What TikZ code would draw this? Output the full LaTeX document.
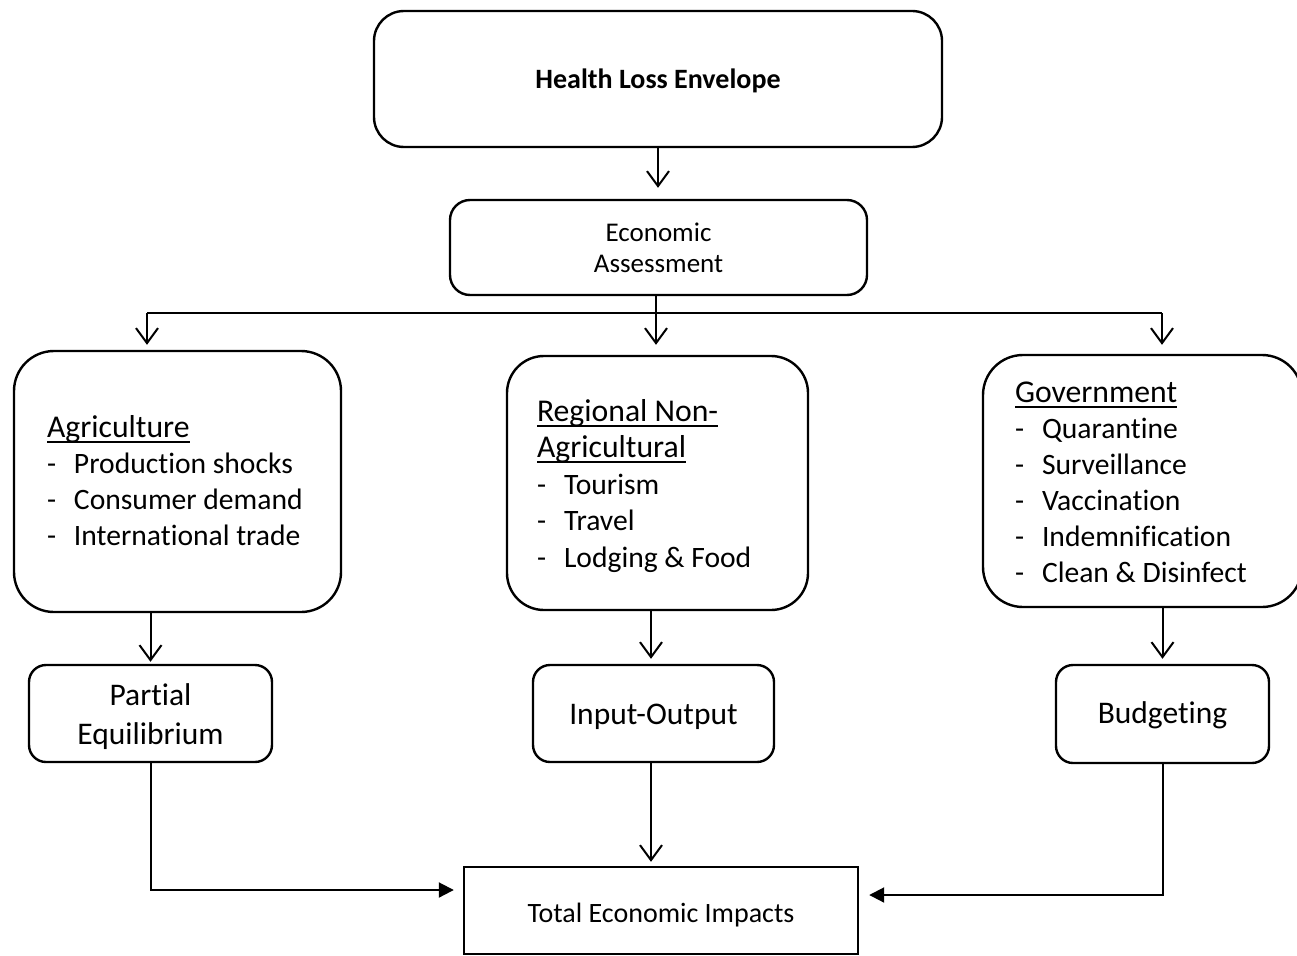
\documentclass[tikz,border=0pt]{standalone}
\usepackage{fontspec}
\setmainfont[Ligatures={NoCommon}]{Carlito}
\usetikzlibrary{arrows.meta}
\newsavebox\ulinebox
\newcommand\ulhead[1]{\sbox\ulinebox{#1}\rlap{\rule[-5.5pt]{\wd\ulinebox}{2pt}}\usebox\ulinebox}
% r = raise of last baseline (b) relative to node centre
\newcommand\boxtextb[3]{\raisebox{#1}[0pt][0pt]{#2\begin{tabular}[b]{@{}c@{}}#3\end{tabular}}}
% list: r = raise of first baseline, w = width of text area
\newcommand\boxlist[4]{\raisebox{#1}[0pt][0pt]{\makebox[#2][l]{#3\begin{tabular}[t]{@{}l@{}}#4\end{tabular}}}}
\newcommand\hd[1]{\fontsize{31.7}{36}\selectfont\ulhead{#1}}
\newcommand\itm[1]{\fontsize{29.6}{36}\selectfont\makebox[27pt][l]{-}#1}
\begin{document}
\begin{tikzpicture}[x=1pt,y=-1pt,
  rbox/.style={draw,line width=2.4pt,inner sep=0pt,align=center},
  conn/.style={line width=2pt},
  oarr/.style={conn,-{Straight Barb[length=15pt,width=22pt]}},
  farr/.style={conn,-{Triangle[length=15pt,width=15pt]}}]
\path[fill=white,use as bounding box] (0,0) rectangle (1297,955);

\node[rbox,rounded corners=30pt,minimum width=568pt,minimum height=136pt] (health) at (658,79)
  {\boxtextb{-10pt}{\fontsize{28}{34}\selectfont\bfseries}{Health Loss Envelope}};
\node[rbox,rounded corners=20pt,minimum width=417pt,minimum height=95pt] (econ) at (658.5,247.5)
  {\boxtextb{-24.5pt}{\fontsize{27}{31}\selectfont}{Economic\\Assessment}};

\node[rbox,rounded corners=40pt,minimum width=327pt,minimum height=261pt] (agri) at (177.5,481.5)
  {\boxlist{44.5pt}{261pt}{\fontsize{29.6}{36}\selectfont}{\hd{Agriculture}\\ \itm{Production shocks}\\ \itm{Consumer demand}\\ \itm{International trade}}};
\node[rbox,rounded corners=37pt,minimum width=301pt,minimum height=254pt] (reg) at (657.5,483)
  {\boxlist{62pt}{241pt}{\fontsize{29.6}{36.5}\selectfont}{\hd{Regional Non-}\\ \hd{Agricultural}\\ \itm{Tourism}\\ \itm{Travel}\\ \itm{Lodging \& Food}}};
\node[rbox,rounded corners=40pt,minimum width=319pt,minimum height=252pt] (gov) at (1142.5,481)
  {\boxlist{79pt}{255pt}{\fontsize{29.6}{36}\selectfont}{\hd{Government}\\ \itm{Quarantine}\\ \itm{Surveillance}\\ \itm{Vaccination}\\ \itm{Indemnification}\\ \itm{Clean \& Disinfect}}};

\node[rbox,rounded corners=17pt,minimum width=243pt,minimum height=97pt] (partial) at (150.5,713.5)
  {\boxtextb{-30.5pt}{\fontsize{31.5}{39}\selectfont}{Partial\\Equilibrium}};
\node[rbox,rounded corners=17pt,minimum width=241pt,minimum height=97pt] (io) at (653.5,713.5)
  {\boxtextb{-10.5pt}{\fontsize{31.5}{38}\selectfont}{Input-Output}};
\node[rbox,rounded corners=17pt,minimum width=213pt,minimum height=98pt] (budget) at (1162.5,714)
  {\boxtextb{-9pt}{\fontsize{31.5}{38}\selectfont}{Budgeting}};
\node[rbox,minimum width=394pt,minimum height=87pt] (total) at (661,910.5)
  {\boxtextb{-11.5pt}{\fontsize{28}{34}\selectfont}{Total Economic Impacts}};

% connectors
\draw[oarr,shorten >=11pt] (health.south) -- (health.south |- econ.north);
\coordinate (busL) at (147,313);
\coordinate (busR) at (1162,313);
\coordinate (busM) at (656,313);
\coordinate (ioX) at (651,0);
\draw[conn] (busM |- econ.south) -- (busM);
\draw[conn] (busL) -- (busR);
\draw[oarr,shorten >=5pt] (busL) -- (busL |- agri.north);
\draw[oarr,shorten >=10pt] (busM) -- (busM |- reg.north);
\draw[oarr,shorten >=9pt] (busR) -- (busR |- gov.north);

\draw[oarr,shorten >=2pt] (partial.north |- agri.south) -- (partial.north);
\draw[oarr,shorten >=5pt] (ioX |- reg.south) -- (ioX |- io.north);
\draw[oarr,shorten >=5pt] (budget.north |- gov.south) -- (budget.north);

\draw[farr,shorten >=9pt] (partial.south) |- ([yshift=20.5pt]total.west);
\draw[oarr,shorten >=4pt] (ioX |- io.south) -- (ioX |- total.north);
\draw[farr,shorten >=10pt] (budget.south) |- ([yshift=15.5pt]total.east);
\end{tikzpicture}
\end{document}
